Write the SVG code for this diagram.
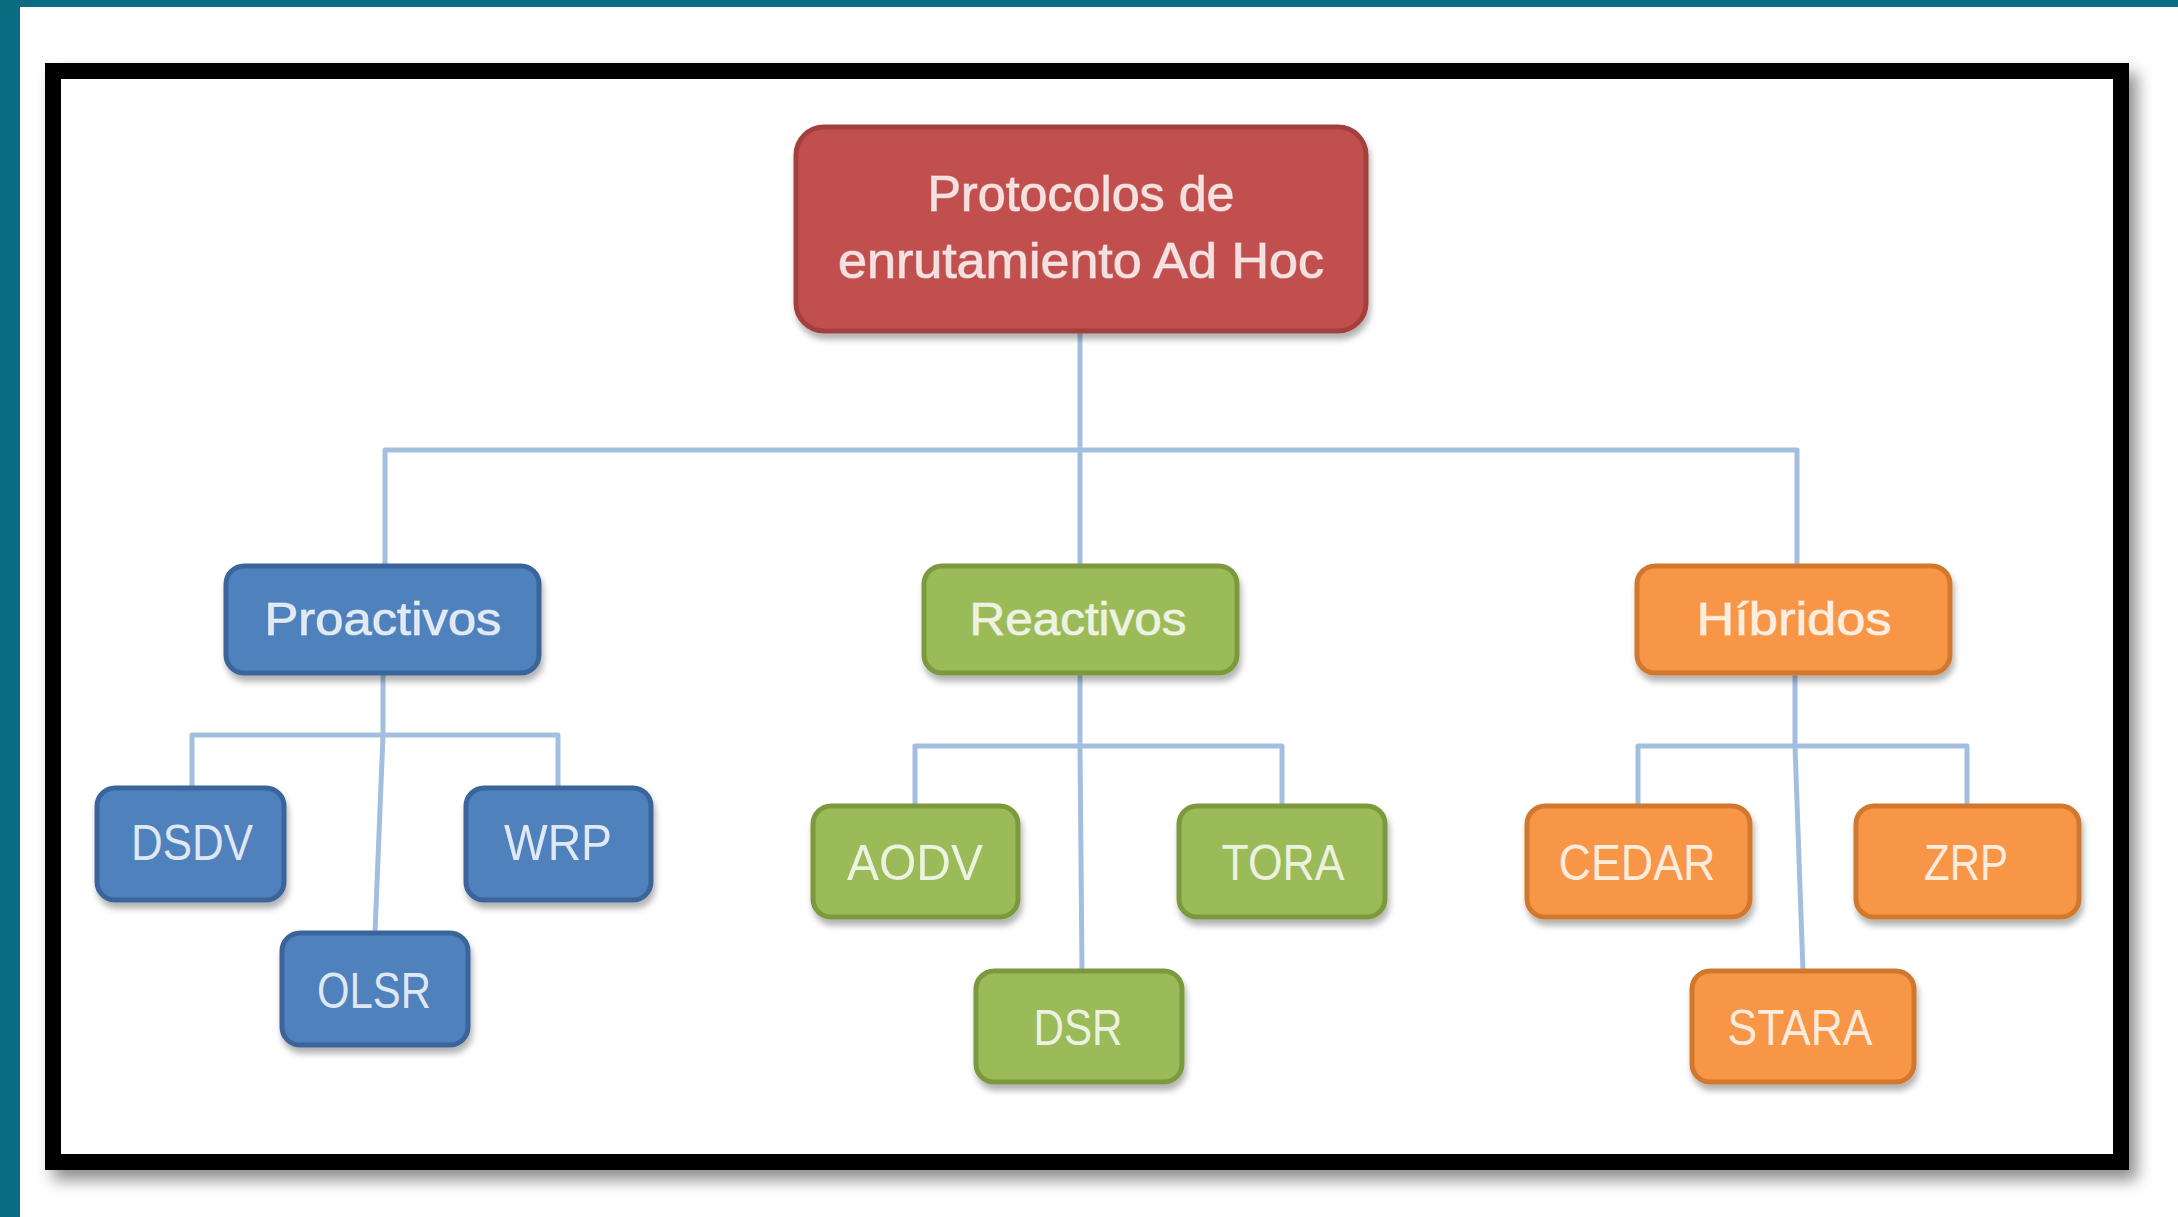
<svg xmlns="http://www.w3.org/2000/svg" width="2178" height="1217" viewBox="0 0 2178 1217">
  <defs>
    <filter id="frameShadow" x="-5%" y="-5%" width="115%" height="115%">
      <feDropShadow dx="8" dy="10" stdDeviation="8" flood-color="#000" flood-opacity="0.45"/>
    </filter>
    <filter id="boxShadow" x="-10%" y="-10%" width="120%" height="130%">
      <feDropShadow dx="2" dy="6" stdDeviation="3" flood-color="#000" flood-opacity="0.3"/>
    </filter>
    <style>
      .blue rect { fill: #4f81bd; stroke: #3b659a; stroke-width: 5; }
      .green rect { fill: #9bbb59; stroke: #7b9a3d; stroke-width: 5; }
      .orange rect { fill: #f79646; stroke: #d2782f; stroke-width: 5; }
      .red rect { fill: #c0504d; stroke: #a3403d; stroke-width: 5; }
      .node rect { filter: url(#boxShadow); }
      .node text { font-family: "Liberation Sans", Arial, sans-serif; fill: #ffffff; fill-opacity: 0.82; text-anchor: middle; }
      .leaf text { font-size: 50px; }
      .mid text { font-size: 46px; stroke: #ffffff; stroke-opacity: 0.5; stroke-width: 1.2px; }
      .root text { font-size: 50px; stroke: #ffffff; stroke-opacity: 0.5; stroke-width: 1.2px; }
      .conn { fill: none; stroke: #a3bfe0; stroke-width: 5; stroke-linejoin: round; }
    </style>
  </defs>

  <!-- background -->
  <rect x="0" y="0" width="2178" height="1217" fill="#ffffff"/>
  <rect x="0" y="0" width="2178" height="7" fill="#0b6b80"/>
  <rect x="0" y="0" width="20" height="1217" fill="#0b6b80"/>

  <!-- frame -->
  <rect x="53" y="71" width="2068" height="1091" fill="#ffffff" stroke="#000000" stroke-width="16" filter="url(#frameShadow)"/>

  <!-- connectors -->
  <g id="connectors">
    <path class="conn" d="M1080 331 V566"/>
    <path class="conn" d="M385 566 V450 H1797 V566"/>
    <path class="conn" d="M383 673 V735"/>
    <path class="conn" d="M192 788 V735 H558 V788"/>
    <path class="conn" d="M383 735 L375 933"/>
    <path class="conn" d="M1080 673 V746"/>
    <path class="conn" d="M915 806 V746 H1282 V806"/>
    <path class="conn" d="M1080 746 L1082 971"/>
    <path class="conn" d="M1795 673 V746"/>
    <path class="conn" d="M1638 806 V746 H1967 V806"/>
    <path class="conn" d="M1795 746 L1803 971"/>
  </g>

  <!-- root -->
  <g id="root" class="node red root">
    <rect x="796" y="127" width="570" height="204" rx="28"/>
    <text x="1081" y="211" textLength="307" lengthAdjust="spacingAndGlyphs">Protocolos de</text>
    <text x="1081" y="278" textLength="486" lengthAdjust="spacingAndGlyphs">enrutamiento Ad Hoc</text>
  </g>

  <!-- mid level -->
  <g id="proactivos" class="node blue mid">
    <rect x="226" y="566" width="313" height="107" rx="18"/>
    <text x="383" y="635" textLength="237" lengthAdjust="spacingAndGlyphs">Proactivos</text>
  </g>
  <g id="reactivos" class="node green mid">
    <rect x="924" y="566" width="313" height="107" rx="18"/>
    <text x="1078" y="635" textLength="217" lengthAdjust="spacingAndGlyphs">Reactivos</text>
  </g>
  <g id="hibridos" class="node orange mid">
    <rect x="1637" y="566" width="313" height="107" rx="18"/>
    <text x="1794" y="635" textLength="195" lengthAdjust="spacingAndGlyphs">Híbridos</text>
  </g>

  <!-- leaves -->
  <g id="dsdv" class="node blue leaf">
    <rect x="97" y="788" width="187" height="112" rx="18"/>
    <text x="192" y="860" textLength="122" lengthAdjust="spacingAndGlyphs">DSDV</text>
  </g>
  <g id="wrp" class="node blue leaf">
    <rect x="466" y="788" width="185" height="112" rx="18"/>
    <text x="558" y="860" textLength="108" lengthAdjust="spacingAndGlyphs">WRP</text>
  </g>
  <g id="olsr" class="node blue leaf">
    <rect x="282" y="933" width="186" height="112" rx="18"/>
    <text x="374" y="1008" textLength="114" lengthAdjust="spacingAndGlyphs">OLSR</text>
  </g>
  <g id="aodv" class="node green leaf">
    <rect x="813" y="806" width="205" height="111" rx="18"/>
    <text x="915" y="880" textLength="136" lengthAdjust="spacingAndGlyphs">AODV</text>
  </g>
  <g id="tora" class="node green leaf">
    <rect x="1179" y="806" width="206" height="111" rx="18"/>
    <text x="1283" y="880" textLength="123" lengthAdjust="spacingAndGlyphs">TORA</text>
  </g>
  <g id="dsr" class="node green leaf">
    <rect x="976" y="971" width="206" height="111" rx="18"/>
    <text x="1078" y="1045" textLength="89" lengthAdjust="spacingAndGlyphs">DSR</text>
  </g>
  <g id="cedar" class="node orange leaf">
    <rect x="1527" y="806" width="223" height="111" rx="18"/>
    <text x="1637" y="880" textLength="157" lengthAdjust="spacingAndGlyphs">CEDAR</text>
  </g>
  <g id="zrp" class="node orange leaf">
    <rect x="1856" y="806" width="223" height="111" rx="18"/>
    <text x="1966" y="880" textLength="84" lengthAdjust="spacingAndGlyphs">ZRP</text>
  </g>
  <g id="stara" class="node orange leaf">
    <rect x="1692" y="971" width="222" height="111" rx="18"/>
    <text x="1800" y="1045" textLength="145" lengthAdjust="spacingAndGlyphs">STARA</text>
  </g>
</svg>
